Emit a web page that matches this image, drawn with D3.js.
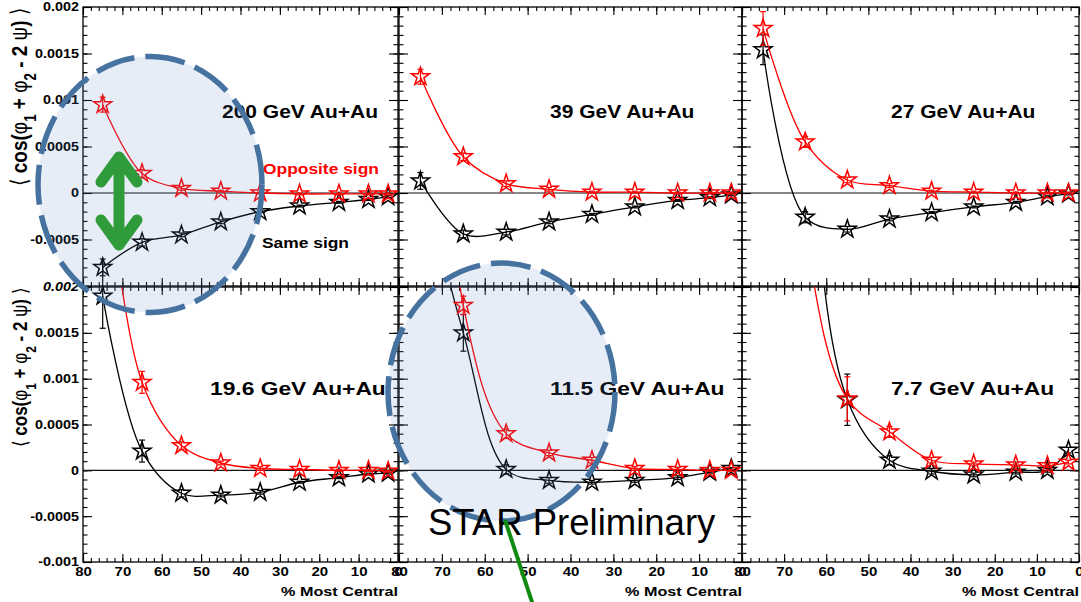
<!DOCTYPE html>
<html>
<head>
<meta charset="utf-8">
<script src="https://cdn.jsdelivr.net/npm/d3@7"></script>
<style>
body { margin: 0; background: #fff; }
text { font-family: "Liberation Sans", Arial, sans-serif; }
</style>
</head>
<body>
<svg id="chart" width="1081" height="602"></svg>
<script>
// centrality bin centres (% most central)
var centrality = [75, 65, 55, 45, 35, 25, 15, 7.5, 2.5];
var xTicks = [80, 70, 60, 50, 40, 30, 20, 10, 0];
var yTicks = [-0.001, -0.0005, 0, 0.0005, 0.001, 0.0015, 0.002];
var yTickLabels = ["-0.001", "-0.0005", "0", "0.0005", "0.001", "0.0015", "0.002"];
var titles = ["200 GeV Au+Au", "39 GeV Au+Au", "27 GeV Au+Au", "19.6 GeV Au+Au", "11.5 GeV Au+Au", "7.7 GeV Au+Au"];

// opposite sign (red)
var opp200 = [0.00095, 0.00021, 0.00005, 0.00002, 0.0, -0.00001, -0.00001, -0.00001, -0.00001];
var opp39  = [0.00125, 0.00039, 0.0001, 0.00004, 0.00001, 0.00001, 0.0, 0.0, 0.0];
var opp27  = [0.00177, 0.00055, 0.00014, 0.00008, 0.00002, 0.00001, 0.0, 0.0, 0.0];
var opp19  = [0.0037, 0.00096, 0.00027, 0.00008, 0.00002, 0.00001, 0.0, 0.0, -0.00001];
var opp11  = [0.008, 0.0018, 0.0004, 0.00019, 0.00011, 0.00002, 0.00001, 0.0, 0.0];
var opp7   = [0.008, 0.0026, 0.00078, 0.00042, 0.00011, 0.00007, 0.00006, 0.00005, 0.00009];
var oppErr200 = [0.00008, 0.00004, 0.00002, 0.00001, 0.00001, 0.00001, 0.00001, 0.00001, 0.00001];
var oppErr39  = [0.00008, 0.00004, 0.00003, 0.00002, 0.00001, 0.00001, 0.00001, 0.00001, 0.00001];
var oppErr27  = [0.00018, 0.00006, 0.00003, 0.00002, 0.00001, 0.00001, 0.00001, 0.00001, 0.00001];
var oppErr19  = [0.0003, 0.00012, 0.00004, 0.00002, 0.00002, 0.00001, 0.00001, 0.00001, 0.00001];
var oppErr11  = [0.0005, 0.0001, 0.00005, 0.00003, 0.00003, 0.00002, 0.00002, 0.00001, 0.00001];
var oppErr7   = [0.0008, 0.0004, 0.00024, 0.00006, 0.00003, 0.00002, 0.00002, 0.00002, 0.00002];

// same sign (black)
var same200 = [-0.0008, -0.00053, -0.00045, -0.00031, -0.0002, -0.00014, -0.0001, -0.00007, -0.00004];
var same39  = [0.00013, -0.00044, -0.00042, -0.00031, -0.00023, -0.00015, -0.00008, -0.00005, -0.00002];
var same27  = [0.00154, -0.00026, -0.00039, -0.00028, -0.00021, -0.00015, -0.0001, -0.00004, -0.00001];
var same19  = [0.0019, 0.00021, -0.00025, -0.00027, -0.00024, -0.00013, -0.00008, -0.00004, -0.00003];
var same11  = [0.0033, 0.0015, 0.00001, -0.00011, -0.00013, -0.00011, -0.00008, -0.00002, 0.00002];
var same7   = [0.015, 0.0045, 0.00077, 0.00011, -0.00001, -0.00005, -0.00002, 0.0, 0.00022];
var sameErr200 = [0.00009, 0.00004, 0.00002, 0.00002, 0.00001, 0.00001, 0.00001, 0.00001, 0.00001];
var sameErr39  = [0.00009, 0.00004, 0.00003, 0.00002, 0.00001, 0.00001, 0.00001, 0.00001, 0.00001];
var sameErr27  = [0.00016, 0.00006, 0.00003, 0.00002, 0.00001, 0.00001, 0.00001, 0.00001, 0.00001];
var sameErr19  = [0.00035, 0.00012, 0.00004, 0.00002, 0.00002, 0.00001, 0.00001, 0.00001, 0.00001];
var sameErr11  = [0.0006, 0.0002, 0.00005, 0.00003, 0.00002, 0.00002, 0.00002, 0.00001, 0.00001];
var sameErr7   = [0.0009, 0.0005, 0.00028, 0.00005, 0.00003, 0.00002, 0.00002, 0.00002, 0.00003];

var panels = [
	{ opp: opp200, oppErr: oppErr200, same: same200, sameErr: sameErr200 },
	{ opp: opp39,  oppErr: oppErr39,  same: same39,  sameErr: sameErr39 },
	{ opp: opp27,  oppErr: oppErr27,  same: same27,  sameErr: sameErr27 },
	{ opp: opp19,  oppErr: oppErr19,  same: same19,  sameErr: sameErr19 },
	{ opp: opp11,  oppErr: oppErr11,  same: same11,  sameErr: sameErr11 },
	{ opp: opp7,   oppErr: oppErr7,   same: same7,   sameErr: sameErr7 }
];

// layout (the original ROOT canvas is stretched sideways, sx)
var sx = 1.2;
var cols = [[83, 398], [399, 742], [742, 1079]];
var rows = [[7, 286], [287, 562]];
var titleX = [222, 550, 891, 210, 550, 891];
var titleY = [118, 118, 118, 395, 395, 395];
var titleSize = [17.5, 17.5, 17.5, 19, 19, 19];

var svg = d3.select("#chart");
var defs = svg.append("defs");
var star = d3.symbol().type(d3.symbolStar).size(100);

function stretch(sel, size, x) {
	sel.style("font-weight", "bold").style("font-size", size + "px")
		.style("font-family", "'Liberation Sans', Arial, sans-serif")
		.attr("transform", "scale(" + sx + ",1)");
	if (x !== undefined) sel.attr("x", x / sx);
}

panels.forEach(function(p, i) {
	var col = i % 3, row = Math.floor(i / 3);
	var c = cols[col], r = rows[row];
	var x = d3.scaleLinear().domain([80, 0]).range(c);
	var y = d3.scaleLinear().domain([-0.001, 0.002]).range([r[1], r[0]]);
	var g = svg.append("g");

	defs.append("clipPath").attr("id", "clip" + i).append("rect")
		.attr("x", c[0]).attr("y", r[0]).attr("width", c[1] - c[0]).attr("height", r[1] - r[0]);

	var minorX = d3.range(0, 81, 2);
	var minorY = d3.range(-10, 21).map(function(k) { return k / 10000; });

	// minor ticks, all four sides
	g.append("g").attr("transform", "translate(0," + r[1] + ")")
		.call(d3.axisBottom(x).tickValues(minorX).tickSize(-4).tickFormat(""));
	g.append("g").attr("transform", "translate(0," + r[0] + ")")
		.call(d3.axisTop(x).tickValues(minorX).tickSize(-4).tickFormat(""));
	g.append("g").attr("transform", "translate(" + c[0] + ",0)")
		.call(d3.axisLeft(y).tickValues(minorY).tickSize(-4.5).tickFormat(""));
	g.append("g").attr("transform", "translate(" + c[1] + ",0)")
		.call(d3.axisRight(y).tickValues(minorY).tickSize(-4.5).tickFormat(""));

	// major ticks
	var xax = g.append("g").attr("transform", "translate(0," + r[1] + ")")
		.call(d3.axisBottom(x).tickValues(xTicks).tickSize(-8).tickPadding(5)
			.tickFormat(row === 1 ? d3.format("d") : ""));
	g.append("g").attr("transform", "translate(0," + r[0] + ")")
		.call(d3.axisTop(x).tickValues(xTicks).tickSize(-8).tickFormat(""));
	var yax = g.append("g").attr("transform", "translate(" + c[0] + ",0)")
		.call(d3.axisLeft(y).tickValues(yTicks).tickSize(-9).tickPadding(4)
			.tickFormat(function(d, k) {
				if (col !== 0) return "";
				if (row === 0 && k === 0) return "";
				return yTickLabels[k];
			}));
	g.append("g").attr("transform", "translate(" + c[1] + ",0)")
		.call(d3.axisRight(y).tickValues(yTicks).tickSize(-9).tickFormat(""));

	g.selectAll(".domain").remove();
	g.selectAll(".tick line").attr("stroke", "#000").attr("stroke-width", 1.1);
	xax.selectAll("text").call(stretch, 12.5).attr("fill", "#000");
	yax.selectAll("text").call(stretch, 12, -4).attr("fill", "#000");
	if (row === 1 && col === 0) {
		yax.selectAll("text").filter(function(d) { return d === 0.002; }).style("font-style", "italic");
	}

	// frame and zero line
	g.append("rect").attr("x", c[0]).attr("y", r[0]).attr("width", c[1] - c[0]).attr("height", r[1] - r[0])
		.attr("fill", "none").attr("stroke", "#000").attr("stroke-width", 1.3);
	g.append("line").attr("x1", c[0]).attr("x2", c[1]).attr("y1", y(0)).attr("y2", y(0))
		.attr("stroke", "#111").attr("stroke-width", 1.1);

	var line = d3.line()
		.x(function(d) { return x(d.c); })
		.y(function(d) { return y(d.v); })
		.curve(d3.curveCatmullRom.alpha(0.5));

	[["same", "sameErr", "#000"], ["opp", "oppErr", "#ff0000"]].forEach(function(s) {
		var pts = centrality.map(function(cc, k) { return { c: cc, v: p[s[0]][k], e: p[s[1]][k] }; });
		var vis = pts.filter(function(d) { return d.v <= 0.0021 && d.v >= -0.001; });

		g.append("path").datum(pts).attr("d", line)
			.attr("fill", "none").attr("stroke", s[2]).attr("stroke-width", 1.3)
			.attr("clip-path", "url(#clip" + i + ")");

		var eb = g.append("g").attr("stroke", s[2]).attr("stroke-width", 1.2);
		vis.forEach(function(d) {
			eb.append("line").attr("x1", x(d.c)).attr("x2", x(d.c))
				.attr("y1", y(d.v - d.e)).attr("y2", y(d.v + d.e));
			[d.v - d.e, d.v + d.e].forEach(function(v) {
				eb.append("line").attr("x1", x(d.c) - 3).attr("x2", x(d.c) + 3)
					.attr("y1", y(v)).attr("y2", y(v));
			});
		});

		g.selectAll(null).data(vis).enter().append("path")
			.attr("d", star)
			.attr("transform", function(d) { return "translate(" + x(d.c) + "," + y(d.v) + ")"; })
			.attr("fill", "none").attr("stroke", s[2]).attr("stroke-width", 1.5)
			.attr("stroke-linejoin", "miter");
	});

	// energy label
	g.append("text").attr("transform", "translate(" + titleX[i] + "," + titleY[i] + ") scale(" + sx + ",1)")
		.style("font-weight", "bold").style("font-size", titleSize[i] + "px")
		.text(titles[i]);

	// x title on bottom row
	if (row === 1) {
		g.append("text").attr("transform", "translate(" + c[1] + ",596) scale(" + sx + ",1)")
			.attr("text-anchor", "end")
			.style("font-weight", "bold").style("font-size", "13.5px")
			.text("% Most Central");
	}
});

// y axis titles
function yTitle(ty, size) {
	var t = svg.append("text")
		.attr("transform", "translate(27," + ty + ") scale(" + sx + ",1) rotate(-90)")
		.attr("text-anchor", "end")
		.style("font-size", size + "px");
	t.append("tspan").text("\u27E8 ");
	t.append("tspan").style("font-weight", "bold").text("cos(");
	t.append("tspan").text("\u03C6");
	t.append("tspan").attr("baseline-shift", "sub").style("font-size", "70%").style("font-weight", "bold").text("1");
	t.append("tspan").style("font-weight", "bold").text(" + ");
	t.append("tspan").text("\u03C6");
	t.append("tspan").attr("baseline-shift", "sub").style("font-size", "70%").style("font-weight", "bold").text("2");
	t.append("tspan").style("font-weight", "bold").text(" - 2 ");
	t.append("tspan").text("\u03C8");
	t.append("tspan").style("font-weight", "bold").text(")");
	t.append("tspan").text(" \u27E9");
}
yTitle(8, 19);
yTitle(288, 17);

// legend-like annotations in 200 GeV panel
svg.append("text").attr("transform", "translate(263,174) scale(" + sx + ",1)")
	.style("font-weight", "bold").style("font-size", "14.5px").attr("fill", "#ff0000")
	.text("Opposite sign");
svg.append("text").attr("transform", "translate(262,248) scale(" + sx + ",1)")
	.style("font-weight", "bold").style("font-size", "14.5px").attr("fill", "#000")
	.text("Same sign");

// highlight circles
var rings = [
	{ cx: 150, cy: 184.5, rx: 112, ry: 128 },
	{ cx: 501.5, cy: 392, rx: 113.5, ry: 129 }
];
svg.selectAll(".ring").data(rings).enter().append("ellipse")
	.attr("cx", function(d) { return d.cx; }).attr("cy", function(d) { return d.cy; })
	.attr("rx", function(d) { return d.rx; }).attr("ry", function(d) { return d.ry; })
	.attr("fill", "#5a88c2").attr("fill-opacity", 0.15)
	.attr("stroke", "#4672a0").attr("stroke-width", 5.5)
	.attr("stroke-dasharray", "40 11");

// green double arrow
svg.append("path")
	.attr("d", "M119,160 L119,242 M101,182 L119,157 L137,182 M101,220 L119,245 L137,220")
	.attr("fill", "none").attr("stroke", "#2f9b3b").attr("stroke-width", 11)
	.attr("stroke-linecap", "round").attr("stroke-linejoin", "round");

// STAR Preliminary and pointer
svg.append("text").attr("x", 428).attr("y", 535)
	.style("font-size", "36.5px").attr("fill", "#000")
	.text("STAR Preliminary");
svg.append("line").attr("x1", 505).attr("y1", 520).attr("x2", 533).attr("y2", 605)
	.attr("stroke", "#118a11").attr("stroke-width", 4);
</script>
</body>
</html>
